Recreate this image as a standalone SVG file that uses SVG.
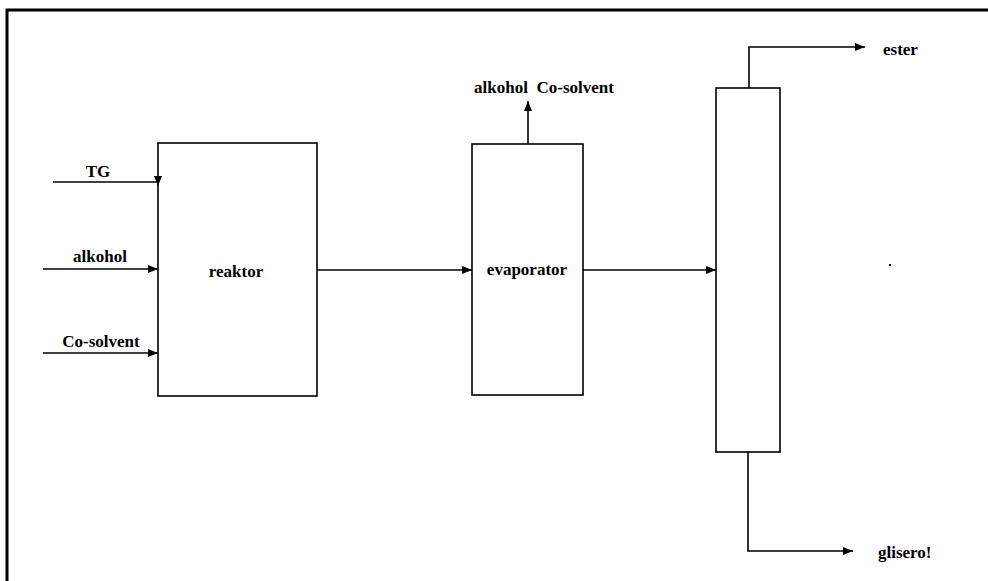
<svg xmlns="http://www.w3.org/2000/svg" width="988" height="581" viewBox="0 0 988 581">
<defs>
<marker id="ah" viewBox="0 0 10 8" refX="10" refY="4" markerWidth="10" markerHeight="8" markerUnits="userSpaceOnUse" orient="auto">
<path d="M0,0 L10,4 L0,8 Z" fill="#000"/>
</marker>
</defs>
<style>
.box{fill:#fff;stroke:#000;stroke-width:1.6}
.ln{fill:none;stroke:#000;stroke-width:1.6}
.t{font-family:"Liberation Serif","Times New Roman",serif;font-weight:bold;font-size:17px;fill:#000}
.frame{fill:none;stroke:#000;stroke-width:3}
</style>
<rect width="988" height="581" fill="#fff"/>
<path class="frame" d="M7,581 L7,10 L988,10"/>
<g id="reaktor">
<rect class="box" x="158" y="143" width="159" height="253"/>
<text class="t" x="236" y="277" text-anchor="middle">reaktor</text>
</g>
<g id="evaporator">
<rect class="box" x="472" y="144" width="111" height="251"/>
<text class="t" x="527" y="275" text-anchor="middle">evaporator</text>
</g>
<g id="column">
<rect class="box" x="716" y="88" width="64" height="364"/>
</g>
<g id="labels">
<text class="t" x="98" y="177" text-anchor="middle">TG</text>
<text class="t" x="100" y="262" text-anchor="middle">alkohol</text>
<text class="t" x="101" y="347" text-anchor="middle">Co-solvent</text>
<text class="t" x="544" y="93" text-anchor="middle" xml:space="preserve">alkohol  Co-solvent</text>
<text class="t" x="883" y="55">ester</text>
<text class="t" x="878" y="558">glisero!</text>
</g>
<g id="connectors">
<path class="ln" d="M53,182 L158,182" />
<path d="M154,176 L162,176 L158,186 Z" fill="#000"/>
<path class="ln" d="M43,269 L158,269" marker-end="url(#ah)"/>
<path class="ln" d="M43,353 L158,353" marker-end="url(#ah)"/>
<path class="ln" d="M317,270 L472,270" marker-end="url(#ah)"/>
<path class="ln" d="M528,144 L528,101" marker-end="url(#ah)"/>
<path class="ln" d="M583,270 L716,270" marker-end="url(#ah)"/>
<path class="ln" d="M749,88 L749,47 L865,47" marker-end="url(#ah)"/>
<path class="ln" d="M748,452 L748,551 L853,551" marker-end="url(#ah)"/>
</g>
<rect x="889" y="264" width="2" height="2" fill="#000"/>
</svg>
